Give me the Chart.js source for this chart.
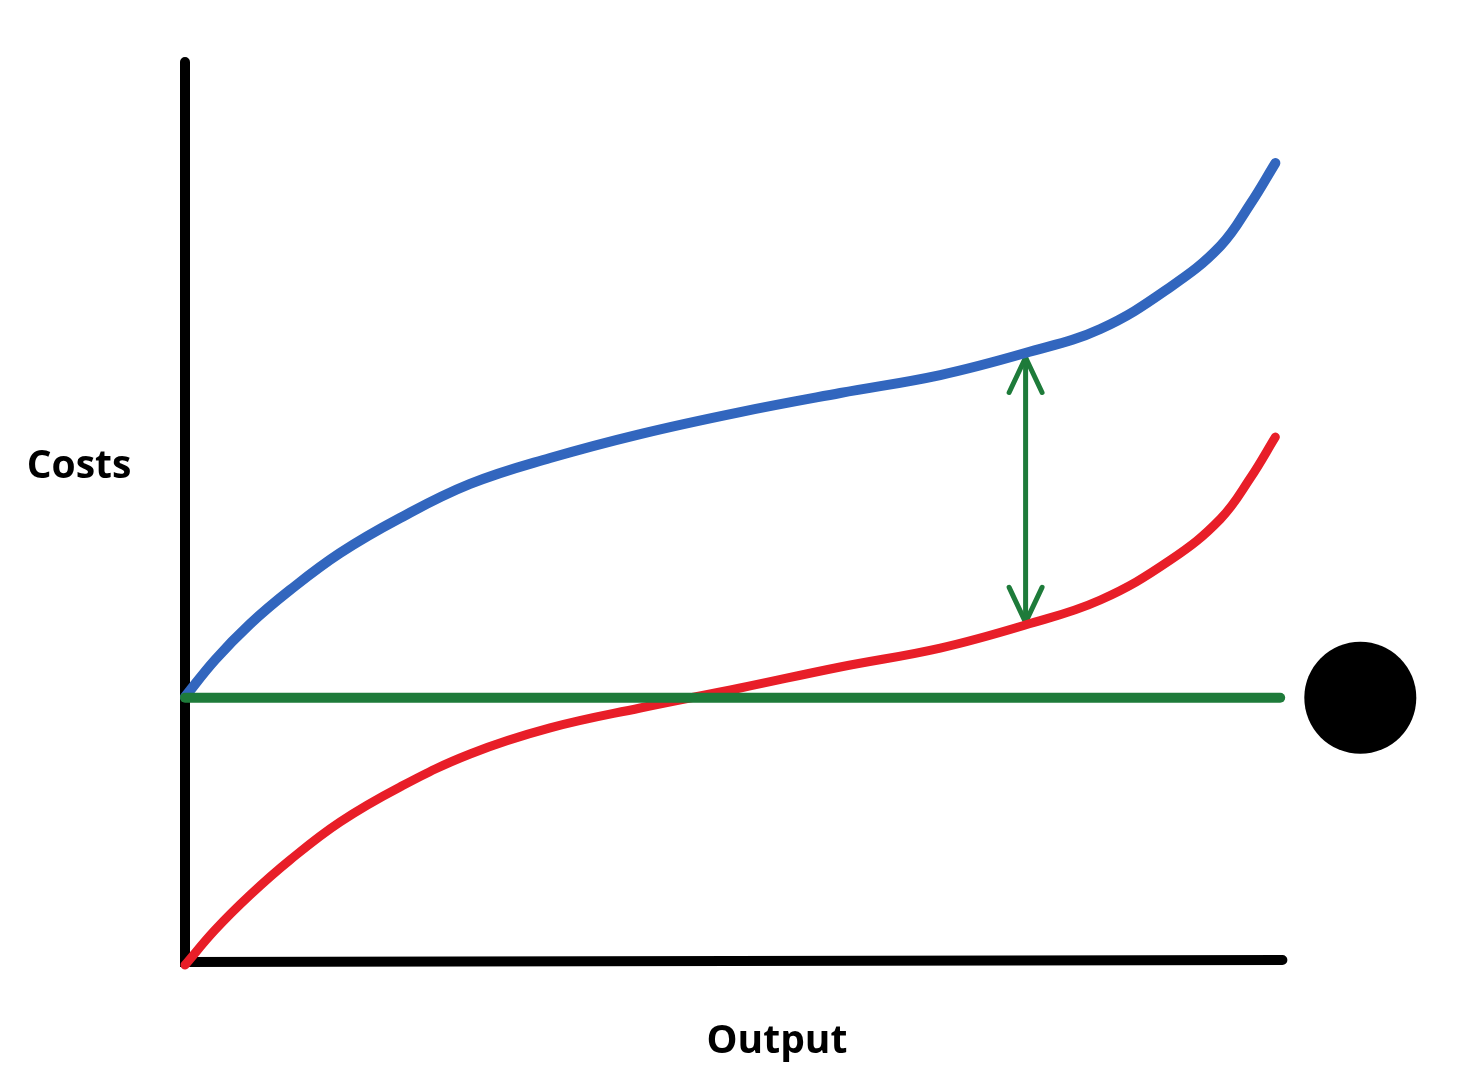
<!DOCTYPE html>
<html>
<head>
<meta charset="utf-8">
<script src="https://cdn.jsdelivr.net/npm/chart.js@4.4.1/dist/chart.umd.min.js"></script>
<style>
  html, body { margin: 0; padding: 0; background: #fff; }
  #wrap { width: 1484px; height: 1080px; }
</style>
</head>
<body>
<div id="wrap"><canvas id="myChart" width="1484" height="1080"></canvas></div>
<script>
// datos (output 0-100, costs 0-100)
const output = [0, 2.73, 5.93, 9.57, 14.13, 19.6, 25.98, 33.27, 41.48, 50.59, 59.71, 68.82, 76.57, 83.41, 89.79, 94.35, 97.08, 99.36];
const costsBlue = [29.3, 33.41, 37.42, 41.2, 45.32, 49.22, 53.01, 55.9, 58.57, 61.02, 63.14, 65.14, 67.59, 70.27, 74.94, 79.51, 84.19, 88.75];
const costsRed = [-0.56, 3.34, 7.24, 11.14, 15.37, 19.27, 22.94, 25.84, 28.06, 30.29, 32.63, 34.74, 37.31, 40.09, 44.54, 49.11, 53.67, 58.24];
const outputFlat = [0, 99.8];
const costsFlat = [29.2, 29.2];
const arrowX = 76.6;
const arrowTop = 67.1;
const arrowBottom = 37.6;
const headW = 1.5;
const headH = 3.9;
const dotX = 107.1;
const dotY = 29.2;
const yLabel = 'Costs';
const xLabel = 'Output';
const axisEnd = 100; // fin del eje x

const chart = document.getElementById('myChart');

// armar puntos x/y
const toPoints = (xs, ys) => xs.map((x, i) => ({ x, y: ys[i] }));

// plugin para ejes y textos
const ejesPlugin = {
    id: 'ejes',
    beforeDatasetsDraw(c) {
        const { ctx, chartArea, scales } = c;
        const x0 = scales.x.getPixelForValue(0);
        const x1 = scales.x.getPixelForValue(axisEnd);
        const y0 = scales.y.getPixelForValue(0);
        ctx.save();
        ctx.strokeStyle = '#000';
        ctx.lineWidth = 10;
        ctx.lineCap = 'round';
        ctx.beginPath();
        ctx.moveTo(x0, chartArea.top);
        ctx.lineTo(x0, y0 + 2);
        ctx.lineTo(x1, y0);
        ctx.stroke();
        ctx.fillStyle = '#000';
        ctx.font = 'bold 39px "Open Sans"';
        ctx.textAlign = 'center';
        ctx.textBaseline = 'middle';
        ctx.fillText(yLabel, 79, 467);
        ctx.fillText(xLabel, 777, 1042);
        ctx.restore();
    }
};

const lineBase = {
    showLine: true,
    pointRadius: 0,
    borderCapStyle: 'round',
    borderJoinStyle: 'round',
    clip: false,
};

const datasets = [
    { ...lineBase, label: 'flat', data: toPoints(outputFlat, costsFlat), borderColor: 'rgb(30, 123, 58)', borderWidth: 10 },
    { ...lineBase, label: 'red', data: toPoints(output, costsRed), borderColor: 'rgb(232, 30, 40)', borderWidth: 9, tension: 0.4 },
    { ...lineBase, label: 'blue', data: toPoints(output, costsBlue), borderColor: 'rgb(50, 102, 190)', borderWidth: 10, tension: 0.4 },
    { ...lineBase, label: 'gap', data: [{ x: arrowX, y: arrowTop }, { x: arrowX, y: arrowBottom }], borderColor: 'rgb(30, 123, 58)', borderWidth: 5 },
    { ...lineBase, label: 'headTop', data: [{ x: arrowX - headW, y: arrowTop - headH }, { x: arrowX, y: arrowTop }, { x: arrowX + headW, y: arrowTop - headH }], borderColor: 'rgb(30, 123, 58)', borderWidth: 5 },
    { ...lineBase, label: 'headBottom', data: [{ x: arrowX - headW, y: arrowBottom + headH }, { x: arrowX, y: arrowBottom }, { x: arrowX + headW, y: arrowBottom + headH }], borderColor: 'rgb(30, 123, 58)', borderWidth: 5 },
    { label: 'dot', data: [{ x: dotX, y: dotY }], pointRadius: 56, pointBackgroundColor: '#000', pointBorderWidth: 0, showLine: false, clip: false },
];

const config = {
    type: 'scatter',
    data: { datasets },
    options: {
        responsive: false,
        animation: false,
        events: [],
        // x llega a 115 para que el circulo quede dentro del area
        layout: { autoPadding: false, padding: { left: 185, right: 37, top: 62, bottom: 120 } },
        plugins: { legend: { display: false }, tooltip: { enabled: false } },
        scales: {
            x: { type: 'linear', display: false, min: 0, max: 115 },
            y: { type: 'linear', display: false, min: 0, max: 100 },
        },
    },
    plugins: [ejesPlugin],
};

new Chart(chart, config);
</script>
</body>
</html>
